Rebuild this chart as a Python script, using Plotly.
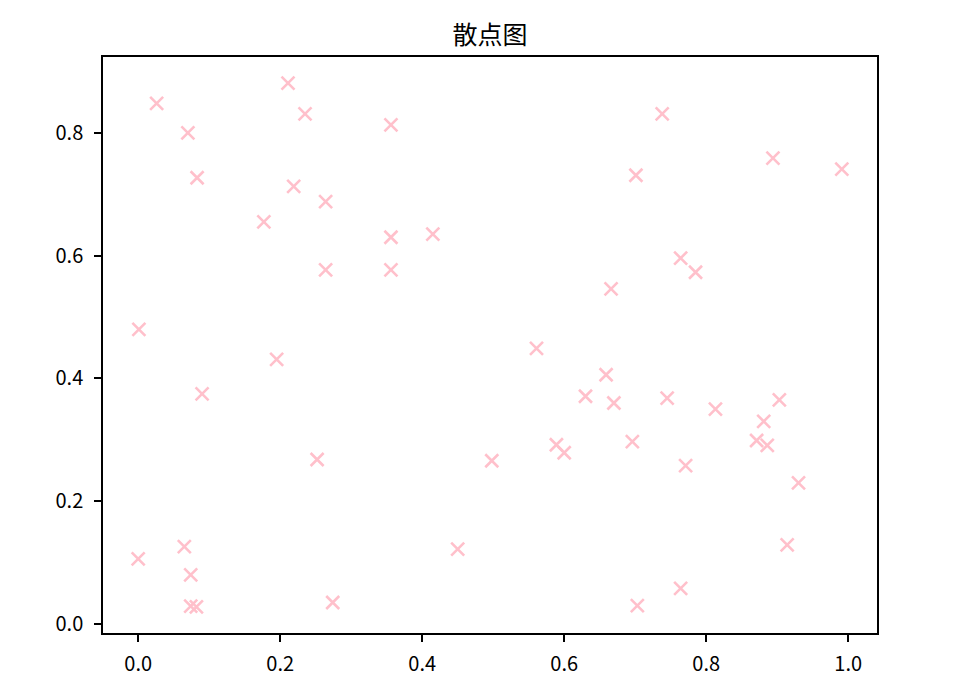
import plotly.graph_objects as go

x_vals = [0.026, 0.211, 0.235, 0.070, 0.356, 0.083, 0.219, 0.264, 0.177, 0.356,
          0.415, 0.264, 0.356, 0.001, 0.738, 0.701, 0.894, 0.991, 0.764, 0.785,
          0.666, 0.195, 0.090, 0.252, 0.498, 0.000, 0.065, 0.074, 0.074, 0.082,
          0.274, 0.450, 0.561, 0.659, 0.630, 0.670, 0.745, 0.813, 0.903, 0.881,
          0.589, 0.600, 0.696, 0.871, 0.886, 0.771, 0.930, 0.914, 0.764, 0.703]
y_vals = [0.848, 0.881, 0.831, 0.800, 0.813, 0.727, 0.713, 0.688, 0.655, 0.630,
          0.635, 0.577, 0.577, 0.480, 0.831, 0.731, 0.759, 0.741, 0.596, 0.573,
          0.546, 0.431, 0.375, 0.268, 0.266, 0.106, 0.126, 0.080, 0.029, 0.028,
          0.035, 0.122, 0.449, 0.406, 0.371, 0.360, 0.368, 0.350, 0.365, 0.330,
          0.292, 0.279, 0.297, 0.299, 0.291, 0.258, 0.230, 0.129, 0.058, 0.030]

x_ticks = [0.0, 0.2, 0.4, 0.6, 0.8, 1.0]
y_ticks = [0.0, 0.2, 0.4, 0.6, 0.8]
title_text = "散点图"

title_font = "Noto Sans CJK SC, DejaVu Sans, sans-serif"
tick_font = "Noto Sans CJK SC, DejaVu Sans, sans-serif"

fig = go.Figure()
fig.add_trace(go.Scatter(
    x=x_vals, y=y_vals, mode="markers",
    marker=dict(symbol="x-thin", size=13, color="pink",
                line=dict(color="pink", width=2.6)),
    showlegend=False,
))

def pad(lo, hi, frac=0.05):
    r = hi - lo
    return [lo - frac * r, hi + frac * r]

axis_common = dict(
    showgrid=False, zeroline=False, showline=True, mirror=True,
    linecolor="black", linewidth=1.5, ticks="outside", ticklen=7,
    tickwidth=1.5, tickcolor="black",
    tickfont=dict(family=tick_font, size=20, color="black"),
)

fig.update_layout(
    width=979, height=684,
    margin=dict(l=95, r=110, t=49, b=59),
    plot_bgcolor="white", paper_bgcolor="white",
    title=dict(text=title_text, x=0.5, xref="paper", xanchor="center",
               y=1 - 27 / 684, yref="container", yanchor="middle",
               font=dict(family=title_font, size=25, color="black")),
    xaxis=dict(range=pad(min(x_vals), max(x_vals)), tickvals=x_ticks,
               ticktext=[f"{v:.1f}" for v in x_ticks], ticklabelstandoff=5,
               **axis_common),
    yaxis=dict(range=pad(min(y_vals), max(y_vals)), tickvals=y_ticks,
               ticktext=[f"{v:.1f}" for v in y_ticks], ticklabelstandoff=7,
               **axis_common),
)

fig.write_html("out.html")
